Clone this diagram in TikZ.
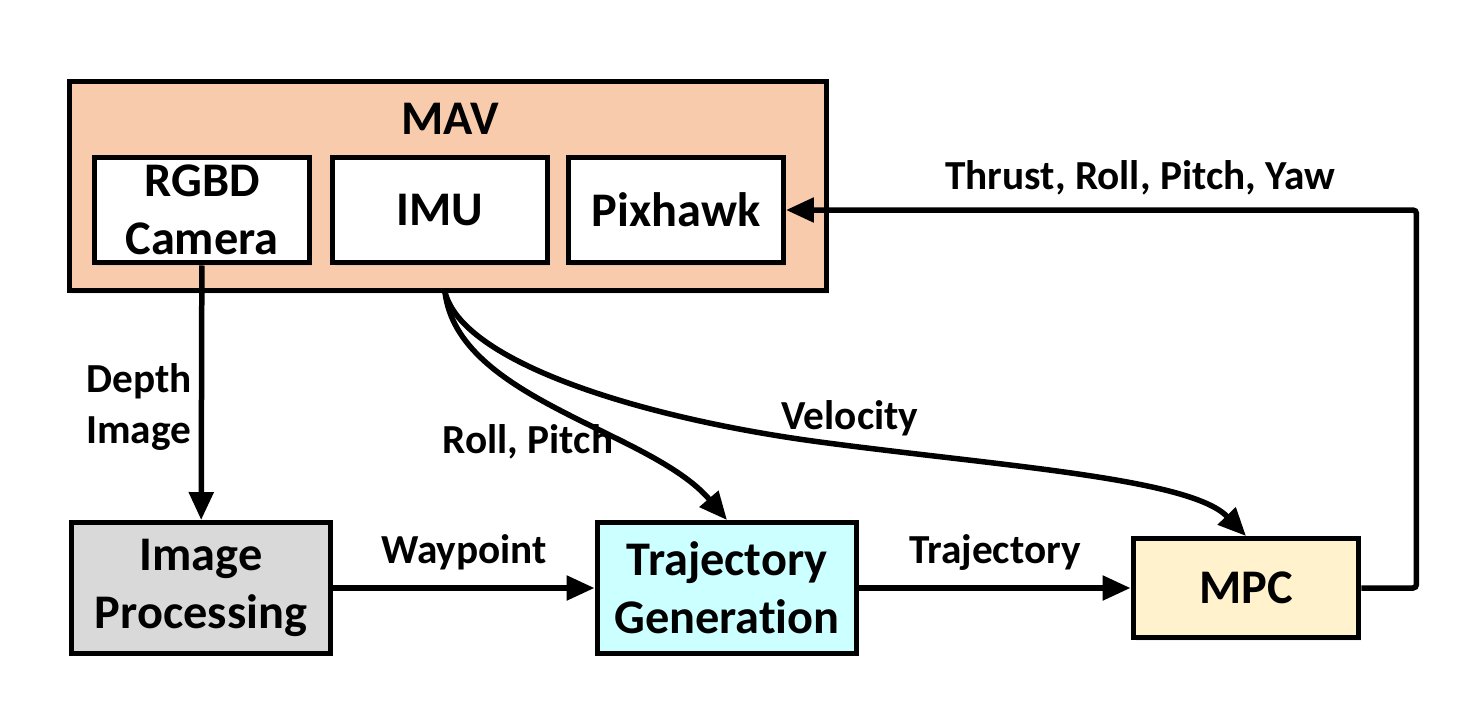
\documentclass[tikz,border=0pt]{standalone}
\usepackage{fontspec}
\setmainfont{Carlito}[Ligatures=NoCommon]
\usepackage{tikz}
\usetikzlibrary{arrows.meta,positioning,shadows}
\definecolor{mavpeach}{HTML}{F8CBAD}
\definecolor{procgray}{HTML}{D9D9D9}
\definecolor{trajcyan}{HTML}{CCFFFF}
\definecolor{mpcyellow}{HTML}{FFF2CC}

\begin{document}
\begin{tikzpicture}[
      x=0.02cm, y=-0.02cm,
      box/.style={draw=black, line width=0.1cm, fill=white, align=center,
                  font=\fontsize{27.5}{33}\selectfont\bfseries, inner sep=0pt,
                  drop shadow={shadow xshift=0.05cm, shadow yshift=-0.06cm, opacity=0.12}},
      lbl/.style={font=\fontsize{23.5}{29}\selectfont\bfseries, align=center, inner sep=0pt},
      arrow/.style={-{Triangle[length=0.56cm, width=0.48cm]}, line width=0.11cm},
    ]
    \useasboundingbox (0,0) rectangle (1478,711);

    % MAV and its parts
    \node[box, fill=mavpeach, minimum width=15.15cm, minimum height=4.2cm] (mav) at (448,186) {};
    \node[lbl, font=\fontsize{27.5}{33}\selectfont\bfseries] (mavt) at (450,119) {MAV};
    \node[box, minimum width=4.3cm, minimum height=2.12cm] (rgbd) at (202,210) {RGBD\\Camera};
    \node[box, minimum width=4.3cm, minimum height=2.12cm] (imu) at (440,210) {IMU};
    \node[box, minimum width=4.3cm, minimum height=2.12cm] (pix) at (676,210) {Pixhawk};

    % processing chain
    \node[box, fill=procgray, minimum width=5.2cm, minimum height=2.62cm] (imgp) at (201,588) {Image\\Processing};
    \node[box, fill=trajcyan, minimum width=5.2cm, minimum height=2.62cm] (traj) at (727,588) {Trajectory\\Generation};
    \node[box, fill=mpcyellow, minimum width=4.52cm, minimum height=1.98cm] (mpc) at (1246,588) {MPC};

    \coordinate (imuout) at (445,292);
    \coordinate (velmid) at (820,442);

    \draw[arrow] (rgbd) -- (imgp);
    \draw[arrow] (imgp) -- node[lbl, above=0.3cm]{Waypoint} (traj);
    \draw[arrow] (traj) -- node[lbl, above=0.3cm]{Trajectory} (mpc);
    \draw[arrow, rounded corners=2pt] (mpc.east) -- ++(55,0) |- (pix.east);
    \draw[arrow] (imuout) .. controls (458,400) and (650,430) .. (traj.north);
    \draw[arrow] (imuout) .. controls (462,362) and (640,418) .. (velmid)
                          .. controls (1000,466) and (1190,478) .. (mpc.north);

    % labels
    \node[lbl, align=left, anchor=east] (depth) at (192,407) {Depth\\Image};
    \node[lbl] (ctrl) at (1140,178) {Thrust, Roll, Pitch, Yaw};
    \node[lbl] (rp) at (528,442) {Roll, Pitch};
    \node[lbl] (vel) at (850,418) {Velocity};
  \end{tikzpicture}
\end{document}
